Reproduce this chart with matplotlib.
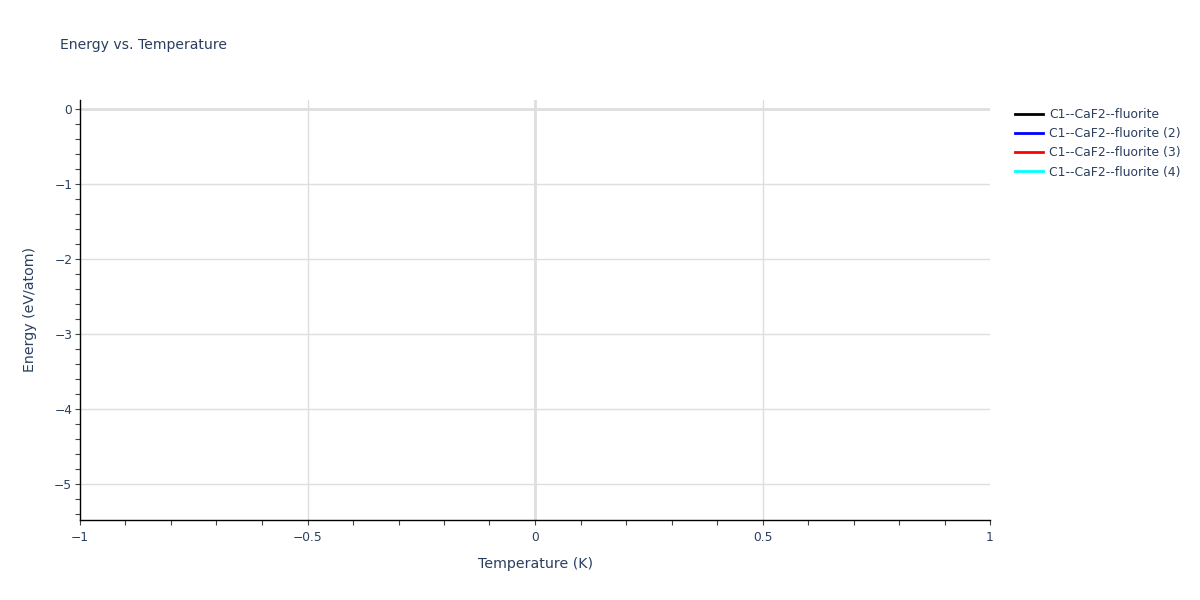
import matplotlib
matplotlib.use("Agg")
from matplotlib import pyplot as plt
from matplotlib.ticker import MultipleLocator, FuncFormatter

# series (each holds a single point, so no line segment is drawn)
names = ["C1--CaF2--fluorite", "C1--CaF2--fluorite (2)",
         "C1--CaF2--fluorite (3)", "C1--CaF2--fluorite (4)"]
colors = ["black", "blue", "red", "cyan"]
temps = [[0.0], [0.0], [0.0], [0.0]]
energies = [[-5.35], [-5.35], [-5.35], [-5.35]]

xticks = [-1, -0.5, 0, 0.5, 1]
yticks = [0, -1, -2, -3, -4, -5]

plt.rcParams['font.family'] = ['DejaVu Sans']
txt = '#2a3f5f'
grid = '#dedede'

fig = plt.figure(figsize=(12, 6), dpi=100)
ax = fig.add_axes([80/1200, 80/600, 910/1200, 420/600])

for t, e, n, c in zip(temps, energies, names, colors):
    ax.plot(t, e, c=c, linewidth=2, label=n)

ax.set_xlim(-1, 1)
ax.set_ylim(-5.48, 0.12)
ax.set_xticks(xticks)
ax.set_yticks(yticks)
ax.xaxis.set_minor_locator(MultipleLocator(0.1))
ax.yaxis.set_minor_locator(MultipleLocator(0.2))

fmt = FuncFormatter(lambda v, p: ('%g' % v).replace('-', '\u2212'))
ax.xaxis.set_major_formatter(fmt)
ax.yaxis.set_major_formatter(fmt)

for v in yticks:
    ax.axhline(v, color=grid, linewidth=2 if v == 0 else 1, zorder=0)
for v in [-0.5, 0, 0.5]:
    ax.axvline(v, color=grid, linewidth=2 if v == 0 else 1, zorder=0)

for s in ['top', 'right']:
    ax.spines[s].set_visible(False)
for s in ['left', 'bottom']:
    ax.spines[s].set_color('black')
    ax.spines[s].set_linewidth(1)

ax.tick_params(which='both', direction='out', length=3.6, width=0.8,
               color='#444444', labelcolor=txt, labelsize=8.8)
ax.tick_params(axis='y', which='both', pad=2)
ax.tick_params(axis='x', which='both', pad=4)

ax.set_xlabel('Temperature (K)', fontsize=10.2, color=txt, labelpad=9.5)
ax.set_ylabel('Energy (eV/atom)', fontsize=10.2, color=txt, labelpad=12)

fig.text(60/1200, 1 - 45/600, 'Energy vs. Temperature', fontsize=10.1,
         color=txt, va='center', ha='left')

leg = ax.legend(loc='upper left', bbox_to_anchor=(1015/1200, 1 - 108/600),
                bbox_transform=fig.transFigure, frameon=False,
                fontsize=8.9, handlelength=2.3, handletextpad=0.45,
                labelspacing=0.5, borderpad=0, borderaxespad=0)
for t in leg.get_texts():
    t.set_color(txt)

plt.savefig('out.png', dpi=100)
